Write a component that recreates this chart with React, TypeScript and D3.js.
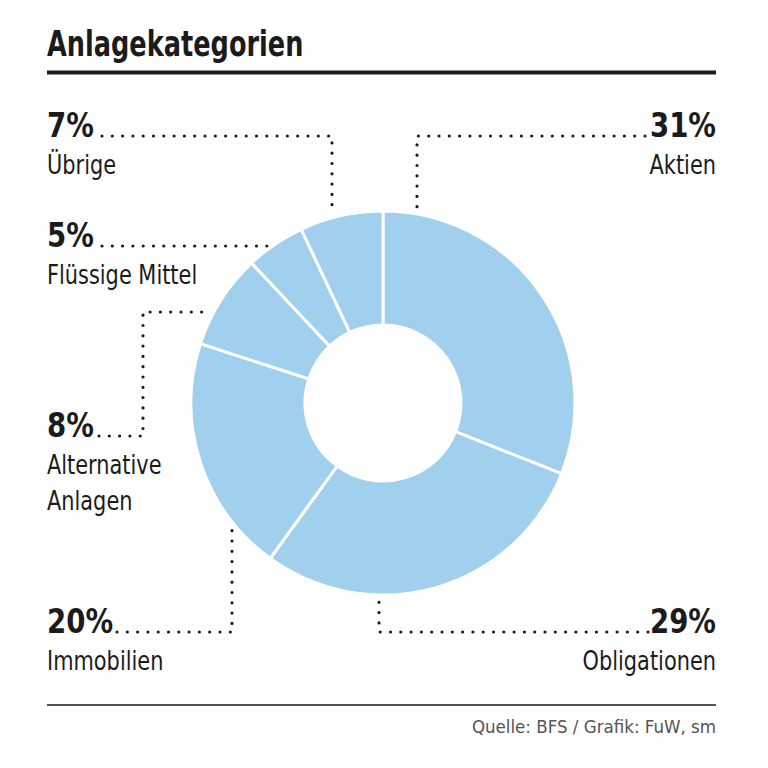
import React from "react";
import * as d3 from "d3";

const categories = ["Aktien", "Obligationen", "Immobilien", "Alternative Anlagen", "Flüssige Mittel", "Übrige"];
const nameLines = [["Aktien"], ["Obligationen"], ["Immobilien"], ["Alternative", "Anlagen"], ["Flüssige Mittel"], ["Übrige"]];
const shares = [31, 29, 20, 8, 5, 7];
const title = "Anlagekategorien";
const source = "Quelle: BFS / Grafik: FuW, sm";

const W = 768;
const H = 768;
const cx = 383;
const cy = 403;
const R = 192;
const r0 = 78;
const FONT = "'Liberation Sans Narrow', 'Arial Narrow', 'DejaVu Sans Condensed', sans-serif";
const FILL = "#a1cfee";
const INK = "#1b1b1b";

const edgeAtX = (x: number, top: boolean): [number, number] => {
  const dy = Math.sqrt(R * R - (x - cx) * (x - cx));
  return [x, top ? cy - dy - 3 : cy + dy + 4];
};
const edgeAtY = (y: number): [number, number] => {
  const dx = Math.sqrt(R * R - (y - cy) * (y - cy));
  return [cx - dx - 3, y];
};

const layouts: Record<string, { side: "left" | "right"; y: number; pts: () => [number, number][] }> = {
  Aktien: { side: "right", y: 137, pts: () => [[645, 136], [417, 136], edgeAtX(417, true)] },
  Obligationen: { side: "right", y: 633, pts: () => [[648, 632], [379, 632], edgeAtX(379, false)] },
  Immobilien: { side: "left", y: 633, pts: () => [[117, 632], [232, 632], edgeAtX(232, false)] },
  "Alternative Anlagen": { side: "left", y: 437, pts: () => [[99, 436], [143, 436], [143, 312], edgeAtY(312)] },
  "Flüssige Mittel": { side: "left", y: 247, pts: () => [[102, 246], edgeAtY(246)] },
  Übrige: { side: "left", y: 137, pts: () => [[102, 136], [332, 136], edgeAtX(332, true)] },
};

function T(props: { x: number; y: number; sx: number; anchor?: string; size: number; bold?: boolean; fill?: string; children: React.ReactNode }) {
  return (
    <text
      transform={`translate(${props.x},${props.y}) scale(${props.sx},1)`}
      textAnchor={props.anchor || "start"}
      fontFamily={FONT}
      fontWeight={props.bold ? "bold" : "normal"}
      fontSize={props.size}
      fill={props.fill || INK}
    >
      {props.children}
    </text>
  );
}

export default function App() {
  const pie = d3.pie<number>().sort(null).value((d) => d)(shares);
  const arc = d3.arc<d3.PieArcDatum<number>>().innerRadius(r0).outerRadius(R);
  const line = d3.line();

  return (
    <svg width={W} height={H} style={{ position: "absolute", left: 0, top: 0, display: "block", background: "#fff" }}>
      <T x={47} y={56} sx={0.79} size={36} bold>
        {title}
      </T>
      <line x1={47} x2={716} y1={72.5} y2={72.5} stroke={INK} strokeWidth={4} />

      <g transform={`translate(${cx},${cy})`}>
        {pie.map((d, i) => (
          <path key={categories[i]} d={arc(d) || ""} fill={FILL} stroke="#fff" strokeWidth={3} />
        ))}
      </g>

      {categories.map((c, i) => {
        const L = layouts[c];
        const anchor = L.side === "left" ? "start" : "end";
        const tx = L.side === "left" ? 47 : 716;
        return (
          <g key={c}>
            <path
              d={line(L.pts()) || ""}
              fill="none"
              stroke={INK}
              strokeWidth={3.2}
              strokeLinecap="round"
              strokeDasharray="0 10.3"
            />
            <T x={tx} y={L.y} sx={0.93} anchor={anchor} size={33} bold>
              {shares[i]}%
            </T>
            {nameLines[i].map((t, j) => (
              <T key={t} x={tx} y={L.y + 37 + j * 36} sx={0.86} anchor={anchor} size={27}>
                {t}
              </T>
            ))}
          </g>
        );
      })}

      <line x1={47} x2={716} y1={705} y2={705} stroke={INK} strokeWidth={1.5} />
      <T x={716} y={733} sx={1.03} anchor="end" size={18} fill="#555">
        {source}
      </T>
    </svg>
  );
}
